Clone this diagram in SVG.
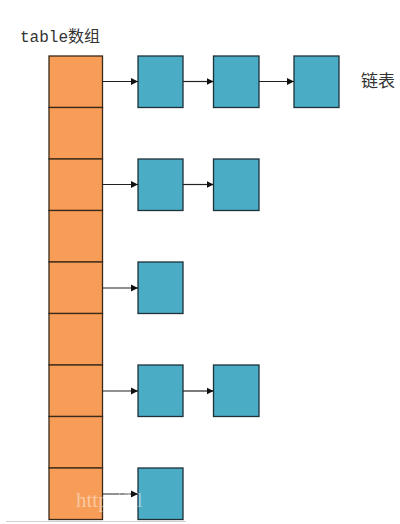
<svg xmlns="http://www.w3.org/2000/svg" width="400" height="524" viewBox="0 0 400 524">
<defs>
<marker id="ah" markerWidth="8" markerHeight="8" refX="7" refY="4" orient="auto" markerUnits="userSpaceOnUse">
<path d="M0,0.5 L7,4 L0,7.5 Z" fill="#111"/>
</marker>
<style>
.cell{fill:#F79D57;stroke:#3a2a1a;stroke-width:1.3}
.node{fill:#4BACC6;stroke:#1e3038;stroke-width:1.3}
.conn{stroke:#222;stroke-width:1.2;fill:none;marker-end:url(#ah)}
.lbl{font-family:"Liberation Mono","Noto Sans CJK SC",monospace;font-size:16px;fill:#333}
</style>
</defs>
<rect width="400" height="524" fill="#fff"/>
<text class="lbl" x="20" y="42">table数组</text>
<text x="361" y="87" style="font-family:'Noto Sans CJK SC',sans-serif;font-size:17px;fill:#333">链表</text>
<g id="table">
<rect class="cell" x="49" y="56" width="53.5" height="51.5"/>
<rect class="cell" x="49" y="107.5" width="53.5" height="51.5"/>
<rect class="cell" x="49" y="159" width="53.5" height="51.5"/>
<rect class="cell" x="49" y="210.5" width="53.5" height="51.5"/>
<rect class="cell" x="49" y="262" width="53.5" height="51.5"/>
<rect class="cell" x="49" y="313.5" width="53.5" height="51.5"/>
<rect class="cell" x="49" y="365" width="53.5" height="51.5"/>
<rect class="cell" x="49" y="416.5" width="53.5" height="51.5"/>
<rect class="cell" x="49" y="468" width="53.5" height="51.5"/>
</g>
<g id="n1a"><rect class="node" x="138" y="56" width="45" height="51.5"/></g>
<g id="n1b"><rect class="node" x="213.5" y="56" width="45.5" height="51.5"/></g>
<g id="n1c"><rect class="node" x="294" y="56" width="45" height="51.5"/></g>
<g id="n2a"><rect class="node" x="138" y="159" width="45" height="51.5"/></g>
<g id="n2b"><rect class="node" x="213.5" y="159" width="45.5" height="51.5"/></g>
<g id="n3a"><rect class="node" x="138" y="262" width="45" height="51.5"/></g>
<g id="n4a"><rect class="node" x="138" y="365" width="45" height="51.5"/></g>
<g id="n4b"><rect class="node" x="213.5" y="365" width="45.5" height="51.5"/></g>
<g id="n5a"><rect class="node" x="138" y="468" width="45" height="51.5"/></g>
<g id="connectors">
<line class="conn" x1="102.5" y1="81.5" x2="138" y2="81.5"/>
<line class="conn" x1="183" y1="81.5" x2="213.5" y2="81.5"/>
<line class="conn" x1="259" y1="81.5" x2="294" y2="81.5"/>
<line class="conn" x1="102.5" y1="184.5" x2="138" y2="184.5"/>
<line class="conn" x1="183" y1="184.5" x2="213.5" y2="184.5"/>
<line class="conn" x1="102.5" y1="288" x2="138" y2="288"/>
<line class="conn" x1="102.5" y1="391" x2="138" y2="391"/>
<line class="conn" x1="183" y1="391" x2="213.5" y2="391"/>
<line class="conn" x1="102.5" y1="494" x2="138" y2="494"/>
</g>
<line x1="6" y1="521.5" x2="186" y2="521.5" stroke="#d0d0d0" stroke-width="1"/>
<text x="76" y="507" style="font-family:'Liberation Serif',serif;font-size:21px;fill:#fff;fill-opacity:0.45">http://bl</text>
</svg>
